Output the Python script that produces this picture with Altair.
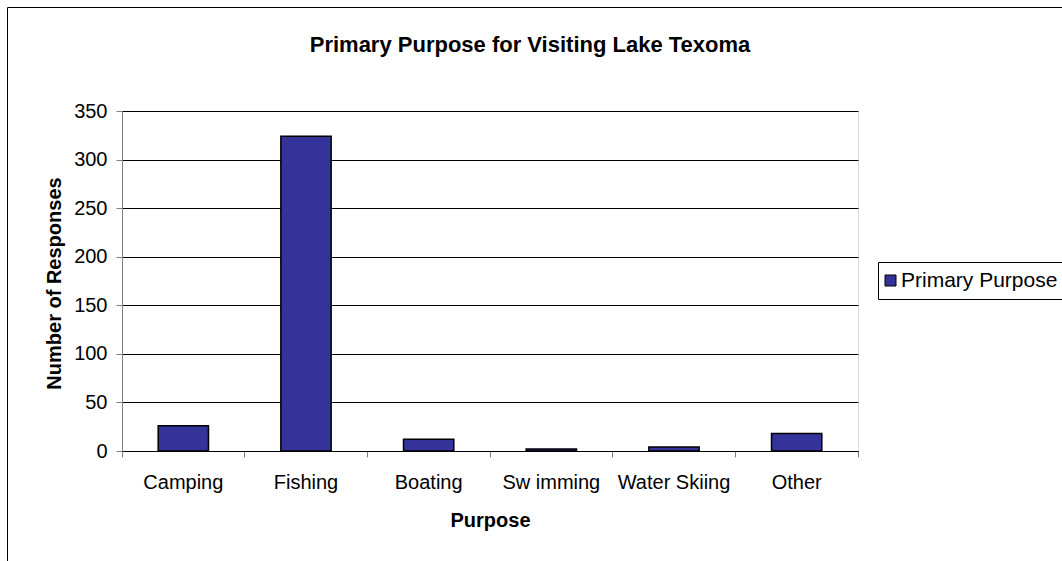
import altair as alt
import pandas as pd

# Survey results: primary purpose for visiting the lake
purposes = ["Camping", "Fishing", "Boating", "Sw imming", "Water Skiing", "Other"]
responses = [26, 324, 12, 2, 4, 18]
series_name = "Primary Purpose"
y_ticks = [0, 50, 100, 150, 200, 250, 300, 350]

FONT = "Liberation Sans"
BAR_COLOR = "#333399"
AXIS_GREY = "#808080"

df = pd.DataFrame({
    "Purpose": purposes,
    "Responses": responses,
    "Series": [series_name] * len(purposes),
})

bars = alt.Chart(df).mark_bar(
    width=alt.RelativeBandSize(0.41),
    stroke="black",
    strokeWidth=1.5,
).encode(
    x=alt.X(
        "Purpose:N",
        sort=purposes,
        scale=alt.Scale(paddingInner=0, paddingOuter=0),
        axis=alt.Axis(
            title="Purpose",
            labelAngle=0,
            bandPosition=1,
            tickExtra=True,
            tickSize=6,
            tickColor=AXIS_GREY,
            domainColor="black",
            labelFont=FONT,
            labelFontSize=20,
            labelColor="black",
            labelBaseline="alphabetic",
            labelPadding=31,
            titleFont=FONT,
            titleFontSize=20,
            titleFontWeight="bold",
            titleColor="black",
            titleBaseline="alphabetic",
            titleY=75,
        ),
    ),
    y=alt.Y(
        "Responses:Q",
        scale=alt.Scale(domain=[0, 350], nice=False),
        axis=alt.Axis(
            values=y_ticks,
            title="Number of Responses",
            grid=True,
            gridColor="black",
            gridWidth=1,
            domainColor=AXIS_GREY,
            tickColor=AXIS_GREY,
            tickSize=6,
            labelFont=FONT,
            labelFontSize=20,
            labelColor="black",
            labelPadding=9,
            titleFont=FONT,
            titleFontSize=20,
            titleFontWeight="bold",
            titleColor="black",
            titleAngle=270,
            titleBaseline="alphabetic",
            titleX=-62,
            titleY=172,
        ),
    ),
    color=alt.Color(
        "Series:N",
        scale=alt.Scale(range=[BAR_COLOR]),
        legend=alt.Legend(
            title=None,
            orient="none",
            legendX=756,
            legendY=151,
            symbolType="square",
            symbolSize=121,
            symbolStrokeColor="black",
            symbolStrokeWidth=1,
            symbolOffset=-6,
            labelFont=FONT,
            labelFontSize=21,
            labelColor="black",
            labelOffset=0,
            strokeColor="black",
            fillColor="white",
            padding=8,
        ),
    ),
)

# Outer chart border (left and top edges)
frame_df = pd.DataFrame({"k": [0]})
frame_left = alt.Chart(frame_df).mark_rule(color="black", strokeWidth=1).encode(
    x=alt.value(-114.5), y=alt.value(-103.5), y2=alt.value(460)
)
frame_top = alt.Chart(frame_df).mark_rule(color="black", strokeWidth=1).encode(
    x=alt.value(-114.5), x2=alt.value(960), y=alt.value(-103.5)
)

chart = alt.layer(frame_left, frame_top, bars).properties(
    width=736,
    height=340,
    autosize=alt.AutoSizeParams(type="none"),
    padding={"left": 122, "top": 111, "right": 204, "bottom": 110},
    title=alt.Title(
        "Primary Purpose for Visiting Lake Texoma",
        font=FONT,
        fontSize=22,
        fontWeight="bold",
        color="black",
        anchor="middle",
        frame="group",
        dx=40,
        baseline="alphabetic",
        offset=-67,
    ),
).configure_view(stroke=None).configure(background="white")

chart.save("out.html", embed_options={"renderer": "svg", "actions": False})
